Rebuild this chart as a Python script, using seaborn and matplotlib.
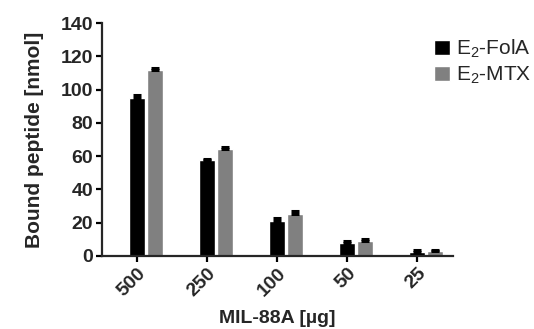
import matplotlib
matplotlib.use("Agg")
import matplotlib.pyplot as plt
import pandas as pd
import seaborn as sns

doses = ["500", "250", "100", "50", "25"]
series = ["E$_2$-FolA", "E$_2$-MTX"]
fola_mean = [95.0, 57.5, 21.0, 7.5, 2.5]
fola_err = [1.8, 0.8, 1.6, 1.2, 1.3]
mtx_mean = [111.5, 64.5, 25.5, 9.0, 3.0]
mtx_err = [1.5, 0.9, 1.8, 1.0, 0.7]
colors = ["#000000", "#808080"]

df = pd.DataFrame({
    "dose": doses * 2,
    "bound": fola_mean + mtx_mean,
    "series": [series[0]] * len(doses) + [series[1]] * len(doses),
})
errors = [fola_err, mtx_err]

sns.set_style("ticks")
plt.rcParams["font.family"] = ["Liberation Sans", "DejaVu Sans"]
plt.rcParams["mathtext.fontset"] = "custom"
plt.rcParams["mathtext.rm"] = "Liberation Sans"
plt.rcParams["mathtext.default"] = "regular"

fig = plt.figure(figsize=(5.34, 3.29), dpi=100)
ax = fig.add_axes([0.191, 0.222, 0.657, 0.708])

sns.barplot(data=df, x="dose", y="bound", hue="series", hue_order=series,
            palette=colors, width=0.5, gap=0.085, errorbar=None,
            saturation=1, ax=ax)

# one-sided (upward) error bars, Prism style
for container, errs in zip(ax.containers, errors):
    for bar, e in zip(container.patches, errs):
        x = bar.get_x() + bar.get_width() / 2
        h = bar.get_height()
        ax.errorbar(x, h, yerr=[[0], [e]], color="black", capsize=3,
                    capthick=2.2, elinewidth=3.5, zorder=5)

# ticks sit under the first bar of each pair
tick_pos = [p.get_x() + p.get_width() / 2 for p in ax.containers[0].patches]
ax.set_xticks(tick_pos)
ax.set_xticklabels(doses, rotation=45, ha="right", rotation_mode="anchor",
                   fontsize=14, fontweight="bold")
ax.set_xlim(tick_pos[0] - 0.5, tick_pos[-1] + 0.51)

ax.set_ylim(0, 140)
ax.set_yticks(range(0, 141, 20))
ax.set_yticklabels([str(v) for v in range(0, 141, 20)], fontsize=14, fontweight="bold")

ax.set_xlabel("MIL-88A [µg]", fontsize=14, fontweight="bold", labelpad=7)
ax.set_ylabel("Bound peptide [nmol]", fontsize=15, fontweight="bold", labelpad=12)

sns.despine(ax=ax)
for side in ["left", "bottom"]:
    ax.spines[side].set_linewidth(1.6)
ax.tick_params(axis="both", width=1.6, length=4.5, color="black", pad=2)

handles, labels = ax.get_legend_handles_labels()
ax.legend(handles, labels, loc="upper left", bbox_to_anchor=(0.918, 0.98),
          frameon=False, fontsize=15, handlelength=0.75, handleheight=0.75,
          handletextpad=0.3, labelspacing=0.2, borderpad=0)

fig.savefig("out.png", dpi=100)
